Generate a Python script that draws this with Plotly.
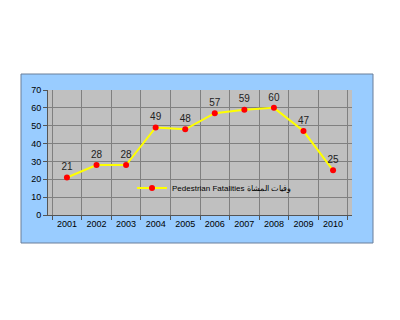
import plotly.graph_objects as go

years = ["2001", "2002", "2003", "2004", "2005", "2006", "2007", "2008", "2009", "2010"]
fatalities = [21, 28, 28, 49, 48, 57, 59, 60, 47, 25]
series_name = "Pedestrian Fatalities وفيات المشاة"

fig = go.Figure()
fig.add_trace(go.Scatter(
    x=years, y=fatalities, name=series_name,
    mode="lines+markers+text",
    text=[str(v) for v in fatalities],
    textposition="top center",
    textfont=dict(family="Arial, Liberation Sans", size=10, color="#222222"),
    line=dict(color="#ffff00", width=2),
    marker=dict(color="#ff0000", size=6),
    cliponaxis=False,
))

L, R, T, B = 48, 48, 90, 105
pw = 400 - L - R
ph = 320 - T - B

def px_x(p):
    return (p - L) / pw

def px_y(p):
    return (320 - B - p) / ph

fig.add_shape(type="rect", xref="paper", yref="paper",
              x0=px_x(21), x1=px_x(373), y0=px_y(243), y1=px_y(74),
              fillcolor="#99ccff", line=dict(color="#6a7f99", width=1), layer="below")
fig.add_shape(type="rect", xref="paper", yref="paper",
              x0=0, x1=1, y0=0, y1=1,
              fillcolor="#c0c0c0", line=dict(width=0), layer="below")

fig.update_layout(
    width=400, height=320,
    margin=dict(l=L, r=R, t=T, b=B),
    paper_bgcolor="white",
    plot_bgcolor="#c0c0c0",
    showlegend=True,
    legend=dict(x=px_x(132), y=px_y(188), xanchor="left", yanchor="middle",
                bgcolor="rgba(0,0,0,0)", itemwidth=30,
                font=dict(family="Arial, Liberation Sans", size=8, color="#000000")),
    xaxis=dict(type="category", tickson="boundaries", showgrid=True,
               gridcolor="#808080", gridwidth=1, ticks="outside", ticklen=4,
               tickcolor="#555555", showline=True, linecolor="#555555",
               tickfont=dict(family="Arial, Liberation Sans", size=9, color="#000000")),
    yaxis=dict(range=[0, 70], dtick=10, showgrid=True, gridcolor="#808080",
               gridwidth=1, ticks="outside", ticklen=4, tickcolor="#555555",
               showline=True, linecolor="#555555", zeroline=False,
               tickfont=dict(family="Arial, Liberation Sans", size=9, color="#000000")),
)

fig.write_html("out.html")
